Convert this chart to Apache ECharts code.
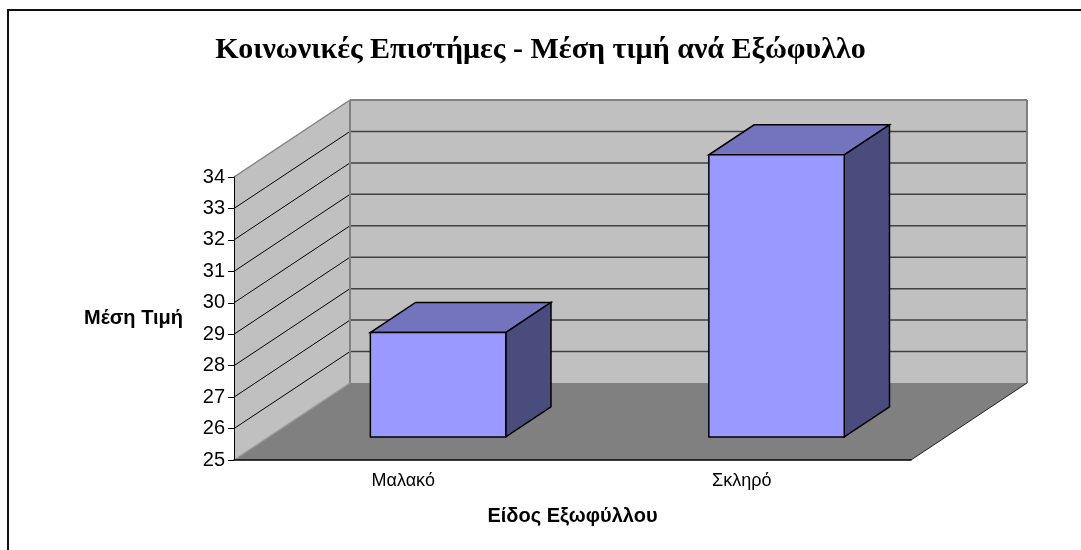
<!DOCTYPE html>
<html>
<head>
<meta charset="utf-8">
<title>Κοινωνικές Επιστήμες - Μέση τιμή ανά Εξώφυλλο</title>
<script src="https://cdn.jsdelivr.net/npm/echarts@6/dist/echarts.min.js"></script>
<style>
html, body { margin: 0; padding: 0; background: #fff; }
#chart { width: 1081px; height: 550px; }
</style>
</head>
<body>
<div id="chart"></div>
<script>
/********** δεδομένα **********/
var categories = ['Μαλακό', 'Σκληρό'];
var meanPrice = [28.32, 33.97];
var yTicks = [25, 26, 27, 28, 29, 30, 31, 32, 33, 34];

/********** 3d look **********/
var DEPTH_X = 116, DEPTH_Y = -77;          // shift of the back wall
var BAR_FRONT = 0.3, BAR_BACK = 0.69;      // bar depth, as part of the floor depth
var BAR_WIDTH = 0.4;                       // bar width, as part of the category band

function shift(p, f) {
    return [p[0] + DEPTH_X * f, p[1] + DEPTH_Y * f];
}

function poly(points, fill, stroke, lw) {
    return { type: 'polygon', shape: { points: points },
             style: { fill: fill, stroke: stroke || null, lineWidth: lw || 0 } };
}

function line(a, b, color, lw) {
    return { type: 'line', shape: { x1: a[0], y1: a[1], x2: b[0], y2: b[1] },
             style: { stroke: color, lineWidth: lw } };
}

// walls, floor and grid lines, built from the axes
function renderWalls(params, api) {
    var cs = params.coordSys;
    var left = cs.x, right = cs.x + cs.width;
    var yLow = api.coord([0, yTicks[0]])[1];
    var yHigh = api.coord([0, yTicks[yTicks.length - 1]])[1];
    var kids = [];

    // back wall
    kids.push(poly([shift([left, yHigh], 1), shift([right, yHigh], 1),
                    shift([right, yLow], 1), shift([left, yLow], 1)], '#c0c0c0'));
    // side wall
    kids.push(poly([[left, yHigh], shift([left, yHigh], 1),
                    shift([left, yLow], 1), [left, yLow]], '#c0c0c0'));
    // floor
    kids.push(poly([[left, yLow], [right, yLow],
                    shift([right, yLow], 1), shift([left, yLow], 1)], '#808080'));

    // grid lines
    for (var i = 1; i < yTicks.length - 1; i++) {
        var y = api.coord([0, yTicks[i]])[1];
        kids.push(line(shift([left, y], 1), shift([right, y], 1), '#404040', 1.5));
        kids.push(line([left, y], shift([left, y], 1), '#000', 1));
    }

    // edges
    kids.push(line([left, yHigh], shift([left, yHigh], 1), '#808080', 1.5));
    kids.push(line(shift([left, yHigh], 1), shift([right, yHigh], 1), '#808080', 2));
    kids.push(line(shift([right, yHigh], 1), shift([right, yLow], 1), '#808080', 2));
    kids.push(line(shift([left, yHigh], 1), shift([left, yLow], 1), '#808080', 2));
    kids.push(line([left, yLow], shift([left, yLow], 1), '#9a9a9a', 1.5));
    kids.push(line([right, yLow], shift([right, yLow], 1), '#202020', 1));

    return { type: 'group', children: kids };
}

// one 3d box per category
function renderBar(params, api) {
    var idx = api.value(0);
    var top = api.coord([idx, api.value(1)]);
    var base = api.coord([idx, yTicks[0]]);
    var half = api.size([1, 0])[0] * BAR_WIDTH / 2;
    var x0 = top[0] - half, x1 = top[0] + half;

    var ftl = shift([x0, top[1]], BAR_FRONT), ftr = shift([x1, top[1]], BAR_FRONT);
    var fbr = shift([x1, base[1]], BAR_FRONT), fbl = shift([x0, base[1]], BAR_FRONT);
    var btl = shift([x0, top[1]], BAR_BACK), btr = shift([x1, top[1]], BAR_BACK);
    var bbr = shift([x1, base[1]], BAR_BACK);

    return { type: 'group', children: [
        poly([ftl, ftr, btr, btl], '#7373be', '#000', 1.5),
        poly([ftr, btr, bbr, fbr], '#4b4c7e', '#000', 1.5),
        poly([ftl, ftr, fbr, fbl], '#9999ff', '#000', 1.5)
    ] };
}

var chart = echarts.init(document.getElementById('chart'), null, { renderer: 'canvas' });

var option = {
    animation: false,
    backgroundColor: '#fff',
    title: {
        text: 'Κοινωνικές Επιστήμες - Μέση τιμή ανά Εξώφυλλο',
        left: 'center',
        top: 30,
        textStyle: { fontFamily: 'Liberation Serif', fontWeight: 'bold', fontSize: 30, color: '#000' }
    },
    grid: { left: 234, right: 170, top: 177, bottom: 90 },
    xAxis: {
        type: 'category',
        data: categories,
        z: 5,
        axisLine: { lineStyle: { color: '#000', width: 1.5 } },
        axisTick: { length: 6, lineStyle: { color: '#808080' } },
        axisLabel: { fontFamily: 'Liberation Sans', fontSize: 18, color: '#000', margin: 12 },
        name: 'Είδος Εξωφύλλου',
        nameLocation: 'middle',
        nameGap: 46,
        nameTextStyle: { fontFamily: 'Liberation Sans', fontWeight: 'bold', fontSize: 20, color: '#000' }
    },
    yAxis: {
        type: 'value',
        min: yTicks[0],
        max: yTicks[yTicks.length - 1],
        interval: 1,
        z: 5,
        axisLine: { show: true, lineStyle: { color: '#000', width: 1 } },
        axisTick: { show: true, length: 6, lineStyle: { color: '#000' } },
        axisLabel: { fontFamily: 'Liberation Sans', fontSize: 20, color: '#000', margin: 9 },
        splitLine: { show: false },
        name: 'Μέση Τιμή',
        nameLocation: 'middle',
        nameRotate: 0,
        nameGap: 51,
        nameTextStyle: { fontFamily: 'Liberation Sans', fontWeight: 'bold', fontSize: 20, color: '#000' }
    },
    graphic: [{
        type: 'rect',
        shape: { x: 8, y: 10, width: 1100, height: 600 },
        style: { fill: null, stroke: '#111', lineWidth: 2 },
        silent: true
    }],
    series: [{
        type: 'custom',
        name: 'walls',
        z: 1,
        silent: true,
        renderItem: renderWalls,
        data: [[0, yTicks[0]]]
    }, {
        type: 'custom',
        name: 'Μέση τιμή',
        z: 10,
        renderItem: renderBar,
        encode: { x: 0, y: 1 },
        data: meanPrice.map(function (v, i) { return [i, v]; })
    }]
};

chart.setOption(option);
</script>
</body>
</html>
